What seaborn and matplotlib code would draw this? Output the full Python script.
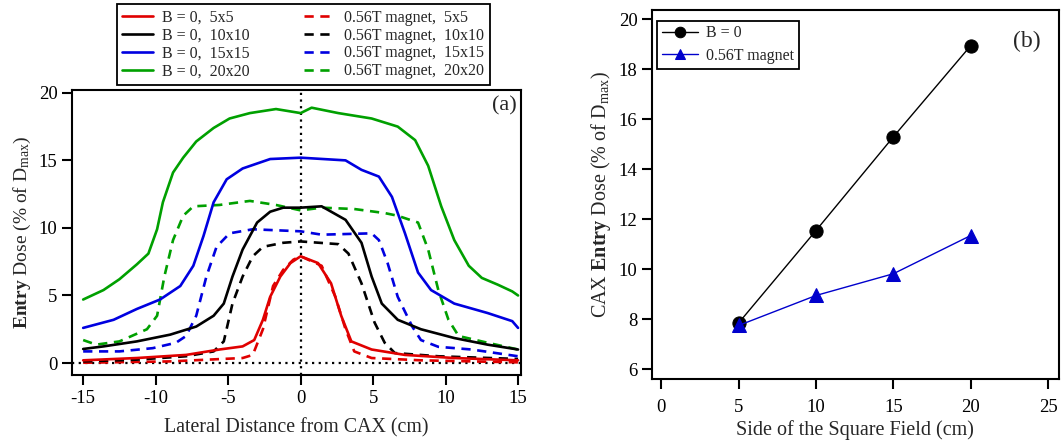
import matplotlib
matplotlib.use("Agg")
import matplotlib.pyplot as plt
import seaborn as sns

# panel (a): lateral entry-dose profiles (x in cm, dose in % of Dmax)
x_b0_20 = [-15, -13.6, -12.5, -11.3, -10.5, -9.9, -9.5, -8.8, -8.1, -7.2, -6.0, -4.9, -3.5, -1.7, 0, 0.76, 2.6, 4.9, 6.7, 7.9, 8.8, 9.7, 10.6, 11.6, 12.5, 13.6, 14.6, 15]
y_b0_20 = [4.7, 5.4, 6.2, 7.3, 8.1, 9.9, 11.9, 14.1, 15.2, 16.4, 17.4, 18.1, 18.5, 18.8, 18.5, 18.9, 18.5, 18.1, 17.5, 16.5, 14.6, 11.6, 9.1, 7.2, 6.3, 5.8, 5.3, 5.0]

x_b0_15 = [-15, -12.9, -11.3, -9.7, -8.3, -7.4, -6.7, -6.0, -5.1, -4.0, -2.1, 0, 3.1, 4.2, 5.4, 6.3, 7.2, 8.1, 9.0, 10.6, 12.9, 14.6, 15]
y_b0_15 = [2.6, 3.2, 4.0, 4.7, 5.7, 7.2, 9.4, 11.9, 13.6, 14.4, 15.1, 15.2, 15.0, 14.3, 13.8, 12.3, 9.6, 6.7, 5.4, 4.4, 3.7, 3.1, 2.6]

x_b0_10 = [-15, -13.6, -11.3, -9.0, -7.2, -6.0, -5.3, -4.7, -4.0, -3.0, -2.1, -1.2, 0, 1.45, 3.1, 4.2, 4.9, 5.6, 6.7, 8.3, 10.6, 12.9, 15]
y_b0_10 = [1.04, 1.23, 1.6, 2.1, 2.7, 3.5, 4.4, 6.4, 8.4, 10.4, 11.2, 11.5, 11.5, 11.6, 10.6, 8.9, 6.4, 4.4, 3.2, 2.5, 1.85, 1.36, 1.0]

x_b0_5 = [-15, -11.3, -7.9, -5.6, -4.0, -3.2, -2.6, -2.1, -1.4, -0.7, 0, 1.2, 2.1, 2.8, 3.5, 4.9, 7.2, 10.6, 15]
y_b0_5 = [0.2, 0.37, 0.6, 1.0, 1.23, 1.7, 3.2, 4.9, 6.4, 7.4, 7.9, 7.4, 5.9, 3.5, 1.6, 1.0, 0.6, 0.37, 0.2]

x_mag_20 = [-15, -14.1, -12.5, -10.6, -9.9, -9.4, -8.8, -8.1, -7.4, -5.6, -3.5, -1.7, 0, 1.45, 3.7, 5.8, 6.7, 8.1, 8.8, 9.5, 10.2, 10.9, 12.9, 15]
y_mag_20 = [1.7, 1.36, 1.6, 2.5, 3.5, 6.4, 9.1, 10.9, 11.6, 11.7, 12.0, 11.7, 11.3, 11.5, 11.4, 11.1, 10.9, 10.4, 8.4, 5.4, 3.2, 2.0, 1.5, 1.0]

x_mag_15 = [-15, -12.5, -10.2, -8.6, -7.9, -7.2, -6.5, -5.8, -4.9, -3.3, 0, 1.45, 4.9, 5.4, 6.0, 6.7, 7.7, 8.3, 9.5, 11.8, 15]
y_mag_15 = [0.86, 0.86, 1.1, 1.5, 2.0, 3.5, 6.4, 8.6, 9.6, 9.9, 9.75, 9.5, 9.6, 9.1, 7.4, 4.9, 2.7, 1.7, 1.2, 1.0, 0.5]

x_mag_10 = [-15, -11.3, -7.9, -6.0, -5.3, -4.7, -4.0, -3.3, -2.6, -1.2, 0, 2.6, 3.3, 4.2, 5.1, 5.8, 6.5, 9.5, 15]
y_mag_10 = [0.12, 0.25, 0.5, 0.86, 1.6, 4.4, 6.4, 7.9, 8.6, 8.9, 9.0, 8.8, 8.1, 5.9, 3.0, 1.5, 0.74, 0.5, 0.3]

x_mag_5 = [-15, -9.0, -4.0, -3.3, -2.6, -1.9, -1.2, -0.5, 0, 1.45, 2.4, 3.1, 3.7, 4.9, 8.3, 15]
y_mag_5 = [0.02, 0.12, 0.37, 0.6, 2.5, 5.7, 6.9, 7.65, 7.9, 7.2, 4.9, 2.5, 0.86, 0.37, 0.2, 0.05]

field_labels = ["5x5", "10x10", "15x15", "20x20"]
field_colors = ["#e00000", "#000000", "#0000e0", "#00a000"]

# panel (b): CAX entry dose vs field side
field_side = [5, 10, 15, 20]
cax_b0 = [7.85, 11.55, 15.3, 18.95]
cax_mag = [7.75, 8.95, 9.82, 11.35]

sns.set_style("ticks")
plt.rcParams['font.family'] = ['Liberation Serif', 'DejaVu Serif']
plt.rcParams['mathtext.fontset'] = 'custom'
plt.rcParams['mathtext.rm'] = 'Liberation Serif'
plt.rcParams['mathtext.it'] = 'Liberation Serif:italic'
plt.rcParams['mathtext.bf'] = 'Liberation Serif:bold'
plt.rcParams['axes.unicode_minus'] = False

fig = plt.figure(figsize=(10.61, 4.44), dpi=100)
ax1 = fig.add_axes([0.068, 0.155, 0.423, 0.642])
ax2 = fig.add_axes([0.6145, 0.146, 0.3835, 0.831])

solid = [(x_b0_5, y_b0_5), (x_b0_10, y_b0_10), (x_b0_15, y_b0_15), (x_b0_20, y_b0_20)]
dashed = [(x_mag_5, y_mag_5), (x_mag_10, y_mag_10), (x_mag_15, y_mag_15), (x_mag_20, y_mag_20)]

ax1.axvline(0, color="black", ls=(0, (1, 2)), lw=1.6, zorder=1)
ax1.axhline(0, color="black", ls=(0, (1, 2)), lw=1.6, zorder=1)

for (xs, ys), lab, col in zip(solid, field_labels, field_colors):
    sns.lineplot(x=xs, y=ys, ax=ax1, color=col, lw=1.9, label=f"B = 0,  {lab}", zorder=3)
for (xs, ys), lab, col in zip(dashed, field_labels, field_colors):
    sns.lineplot(x=xs, y=ys, ax=ax1, color=col, lw=1.9, ls=(0, (3.5, 2.5)),
                 label=f"0.56T magnet,  {lab}", zorder=2)

ax1.set_xlim(-15.76, 15.2)
ax1.set_ylim(-0.9, 20.2)
ax1.set_xticks([-15, -10, -5, 0, 5, 10, 15])
ax1.set_yticks([0, 5, 10, 15, 20])
ax1.set_xlabel("Lateral Distance from CAX (cm)", fontsize=14.3, labelpad=8)
ax1.set_ylabel(r"$\mathbf{Entry}$ Dose (% of $\mathrm{D}_{\mathrm{max}}$)", fontsize=14, labelpad=4)
ax1.text(0.99, 0.945, "(a)", transform=ax1.transAxes, ha="right", va="center", fontsize=16)
leg1 = ax1.legend(loc="lower center", bbox_to_anchor=(0.515, 0.99), ncol=2, fontsize=11.5,
                  frameon=True, fancybox=False, edgecolor="black", framealpha=1,
                  handlelength=1.9, labelspacing=0.12, columnspacing=3.4, borderpad=0.35,
                  handletextpad=0.6)
leg1.get_frame().set_linewidth(1.3)

sns.lineplot(x=field_side, y=cax_b0, ax=ax2, color="black", lw=1, marker="o",
             markersize=9.5, markeredgecolor="black", label="B = 0")
sns.lineplot(x=field_side, y=cax_mag, ax=ax2, color="#0000cc", lw=1, marker="^",
             markersize=9.5, markeredgecolor="#0000cc", label="0.56T magnet")
ax2.set_xlim(-0.6, 25.7)
ax2.set_ylim(5.6, 20.37)
ax2.set_xticks([0, 5, 10, 15, 20, 25])
ax2.set_yticks([6, 8, 10, 12, 14, 16, 18, 20])
ax2.set_xlabel("Side of the Square Field (cm)", fontsize=14.5, labelpad=3)
ax2.set_ylabel(r"CAX $\mathbf{Entry}$ Dose (% of $\mathrm{D}_{\mathrm{max}}$)", fontsize=14.5)
ax2.text(0.955, 0.915, "(b)", transform=ax2.transAxes, ha="right", va="center", fontsize=17)
leg2 = ax2.legend(loc="upper left", bbox_to_anchor=(0.012, 0.972), fontsize=11.5, frameon=True,
                  fancybox=False, edgecolor="black", framealpha=1, handlelength=2.3,
                  borderpad=0.3, labelspacing=0.4, borderaxespad=0, handletextpad=0.5,
                  markerscale=0.8)
leg2.get_frame().set_linewidth(1.3)

for ax in (ax1, ax2):
    for side in ("top", "right", "left", "bottom"):
        ax.spines[side].set_visible(True)
        ax.spines[side].set_linewidth(1.5)
        ax.spines[side].set_color("black")
    ax.tick_params(direction="out", length=7, width=1.5, labelsize=13.5, colors="black")
    ax.tick_params(top=False, right=False)
ax2.tick_params(axis="x", pad=7)

fig.savefig("out.png", dpi=100)
